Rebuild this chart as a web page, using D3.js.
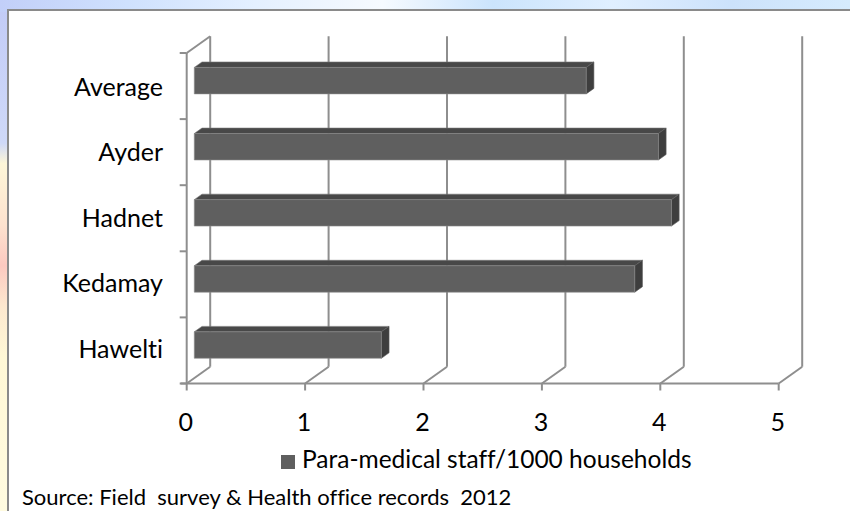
<!DOCTYPE html>
<html>
<head>
<meta charset="utf-8">
<script src="https://cdn.jsdelivr.net/npm/d3@7"></script>
<style>
  html, body { margin: 0; padding: 0; background: #ffffff; }
  svg { display: block; }
  text { font-family: Lato, "Open Sans", sans-serif; fill: #000; font-variant-ligatures: none; }
</style>
</head>
<body>
<svg id="chart" width="850" height="511"></svg>
<script>
// Categories listed top to bottom as they appear on the axis
const categories = ["Average", "Ayder", "Hadnet", "Kedamay", "Hawelti"];
// Para-medical staff per 1000 households
const staffValues = [3.31, 3.92, 4.03, 3.72, 1.58];
const seriesName = "Para-medical staff/1000 households";
const valueTicks = [0, 1, 2, 3, 4, 5];
const sourceNote = "Source: Field\u00a0 survey & Health office records\u00a0 2012";

const svg = d3.select("#chart");
const W = 850, H = 511;

// ---- page backdrop around the chart panel ----
const defs = svg.append("defs");
const topGrad = defs.append("linearGradient").attr("id", "topBand").attr("x1", 0).attr("x2", 1).attr("y1", 0).attr("y2", 0);
[[0, "#c2cff9"], [0.15, "#cfe1fd"], [0.3, "#e4f0ff"], [0.45, "#f6faff"], [0.58, "#cbe4fc"], [0.72, "#e0efff"], [0.86, "#cce2fb"], [1, "#d6ebfd"]]
  .forEach(([o, c]) => topGrad.append("stop").attr("offset", o).attr("stop-color", c));
const leftGrad = defs.append("linearGradient").attr("id", "leftBand").attr("x1", 0).attr("x2", 0).attr("y1", 0).attr("y2", 1);
[[0, "#c2cbf7"], [0.28, "#cfd9f8"], [0.32, "#fdf6d8"], [0.44, "#fde2cf"], [0.52, "#fcc9c0"], [0.6, "#fde8cf"], [0.7, "#fff8d6"], [1, "#fffbe0"]]
  .forEach(([o, c]) => leftGrad.append("stop").attr("offset", o).attr("stop-color", c));

svg.append("rect").attr("x", 0).attr("y", 0).attr("width", W).attr("height", H).attr("fill", "url(#leftBand)");
svg.append("rect").attr("x", 0).attr("y", 0).attr("width", W).attr("height", 12).attr("fill", "url(#topBand)");

// chart panel
svg.append("rect")
  .attr("x", 8).attr("y", 10).attr("width", W).attr("height", H)
  .attr("fill", "#ffffff").attr("stroke", "#8a8a8a").attr("stroke-width", 2);

// ---- 3D layout ----
const x = d3.scaleLinear().domain([0, 5]).range([186.7, 778.7]);
const y = d3.scaleBand().domain(categories).range([53, 383.5]);
const yLabel = d3.scaleBand().domain(categories).range([57, 384]);
const DX = 23.5, DY = -16.7;          // offset from front plane to back wall
const zFront = 0.323, zBack = 0.65;   // depth slice occupied by the bars
const barH = y.bandwidth() / 2.5;     // gap width 150%
const proj = (px, py, z) => [px + z * DX, py + z * DY];

const gridColor = "#8e8e8e";
const g = svg.append("g");

// back wall gridlines and floor diagonals
const yTop = y.range()[0], yBot = y.range()[1];
valueTicks.forEach(v => {
  const [bx0, by0] = proj(x(v), yTop, 1);
  const [bx1, by1] = proj(x(v), yBot, 1);
  g.append("line").attr("x1", bx0).attr("y1", by0).attr("x2", bx1).attr("y2", by1)
    .attr("stroke", gridColor).attr("stroke-width", 2);
  g.append("line").attr("x1", bx1).attr("y1", by1).attr("x2", x(v)).attr("y2", yBot)
    .attr("stroke", gridColor).attr("stroke-width", 2);
});
// side wall: front edge and top diagonal
g.append("line").attr("x1", x(0)).attr("y1", yTop).attr("x2", x(0)).attr("y2", yBot)
  .attr("stroke", gridColor).attr("stroke-width", 2);
{
  const [tx, ty] = proj(x(0), yTop, 1);
  g.append("line").attr("x1", x(0)).attr("y1", yTop).attr("x2", tx).attr("y2", ty)
    .attr("stroke", gridColor).attr("stroke-width", 2);
}
// front floor edge
g.append("line").attr("x1", x(0) - 6).attr("y1", yBot).attr("x2", x(5)).attr("y2", yBot)
  .attr("stroke", gridColor).attr("stroke-width", 2);
// value axis ticks
valueTicks.forEach(v => {
  g.append("line").attr("x1", x(v)).attr("y1", yBot).attr("x2", x(v)).attr("y2", yBot + 7)
    .attr("stroke", gridColor).attr("stroke-width", 2);
});
// category ticks at band boundaries
const bounds = categories.map(c => y(c)).concat([yBot]);
bounds.forEach(b => {
  g.append("line").attr("x1", x(0) - 7).attr("y1", b).attr("x2", x(0)).attr("y2", b)
    .attr("stroke", gridColor).attr("stroke-width", 2);
});

// ---- bars ----
const bars = svg.append("g");
categories.forEach((c, i) => {
  const v = staffValues[i];
  const yc = y(c) + y.bandwidth() / 2;
  const y0 = yc - barH / 2, y1 = yc + barH / 2;
  const fTL = proj(x(0), y0, zFront), fTR = proj(x(v), y0, zFront);
  const fBR = proj(x(v), y1, zFront), fBL = proj(x(0), y1, zFront);
  const bTL = proj(x(0), y0, zBack), bTR = proj(x(v), y0, zBack);
  const bBR = proj(x(v), y1, zBack);
  const poly = pts => pts.map(p => p.join(",")).join(" ");
  // top face
  bars.append("polygon").attr("points", poly([fTL, fTR, bTR, bTL]))
    .attr("fill", "#484848").attr("stroke", "#767676").attr("stroke-width", 0.6);
  // end face
  bars.append("polygon").attr("points", poly([fTR, bTR, bBR, fBR]))
    .attr("fill", "#3e3e3e").attr("stroke", "#5a5a5a").attr("stroke-width", 0.6);
  // front face
  bars.append("polygon").attr("points", poly([fTL, fTR, fBR, fBL]))
    .attr("fill", "#5f5f5f").attr("stroke", "#8c8c8c").attr("stroke-width", 0.6);
});

// ---- labels ----
const labels = svg.append("g");
categories.forEach(c => {
  labels.append("text")
    .attr("x", 163).attr("y", yLabel(c) + yLabel.bandwidth() / 2)
    .attr("text-anchor", "end").attr("dominant-baseline", "middle")
    .attr("font-size", 25).text(c);
});
valueTicks.forEach(v => {
  labels.append("text")
    .attr("x", x(v) - 1).attr("y", 425)
    .attr("text-anchor", "middle").attr("dominant-baseline", "middle")
    .attr("font-size", 25).text(v);
});

// legend
const legend = svg.append("g");
legend.append("rect").attr("x", 281).attr("y", 455).attr("width", 14).attr("height", 14).attr("fill", "#5f5f5f");
legend.append("text").attr("x", 302).attr("y", 462).attr("dominant-baseline", "middle")
  .attr("font-size", 24.5).text(seriesName);

// source note
svg.append("text").attr("x", 22).attr("y", 505).attr("font-size", 22).text(sourceNote);
</script>
</body>
</html>
